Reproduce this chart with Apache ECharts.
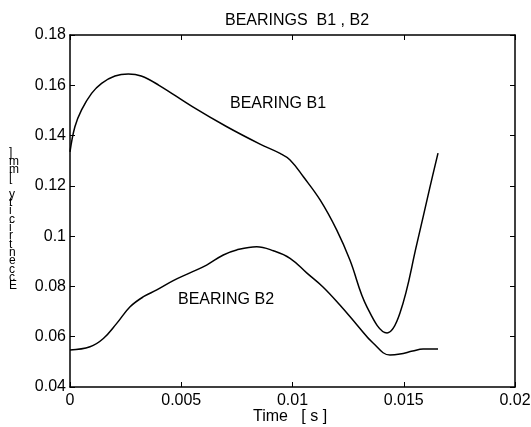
<!DOCTYPE html>
<html>
<head>
<meta charset="utf-8">
<script src="https://cdn.jsdelivr.net/npm/echarts@6/dist/echarts.min.js"></script>
<style>
  html, body { margin: 0; padding: 0; background: #fff; }
  #chart { width: 531px; height: 427px; }
</style>
</head>
<body>
<div id="chart"></div>
<script>
// values: [time (s), eccentricity (mm)]
var bearingB1 = [
    [0, 0.1335], [0.00022, 0.1435], [0.00052, 0.1502], [0.00097, 0.1568],
    [0.00142, 0.1608], [0.00202, 0.1637], [0.00262, 0.1645], [0.0032, 0.1637],
    [0.004, 0.1600], [0.0055, 0.1515], [0.00705, 0.1435], [0.00854, 0.1366],
    [0.00944, 0.1329], [0.00989, 0.1303], [0.01049, 0.1236], [0.01124, 0.1144],
    [0.01199, 0.1024], [0.01258, 0.0905], [0.01335, 0.0718],
    [0.01425, 0.0615], [0.01483, 0.0694], [0.0156, 0.0973], [0.01618, 0.1196],
    [0.01654, 0.1330]
];
var bearingB2 = [
    [0, 0.0547], [0.0009, 0.0560], [0.0015, 0.0593], [0.0021, 0.0653],
    [0.0027, 0.0719], [0.0033, 0.0759], [0.0039, 0.0786], [0.00464, 0.0823],
    [0.00539, 0.0854], [0.00614, 0.0885], [0.00689, 0.0925], [0.00749, 0.0945],
    [0.00839, 0.0958], [0.00914, 0.0942], [0.00989, 0.0912], [0.01065, 0.0853],
    [0.01137, 0.0798], [0.01213, 0.0726], [0.0129, 0.0647], [0.01362, 0.0575],
    [0.01438, 0.0527], [0.01483, 0.0531], [0.0154, 0.0543], [0.01587, 0.0551],
    [0.01654, 0.0551]
];
var xTicks = [0, 0.005, 0.01, 0.015, 0.02];
var yTicks = [0.04, 0.06, 0.08, 0.1, 0.12, 0.14, 0.16, 0.18];
var xLabel = 'Time   [ s ]';
var yLabel = 'Eccentricity [mm]';

var font = 'Liberation Sans, Arial, sans-serif';
var chart = echarts.init(document.getElementById('chart'));

function boxAxis(pos, ticks, showLabel, margin) {
    return {
        type: 'value',
        position: pos,
        min: ticks[0],
        max: ticks[ticks.length - 1],
        interval: ticks[1] - ticks[0],
        axisLine: { show: true, onZero: false, lineStyle: { color: '#000', width: 1.5 } },
        axisTick: { show: true, inside: true, length: 5, lineStyle: { color: '#000', width: 1 } },
        axisLabel: {
            show: showLabel, color: '#000', fontFamily: font, fontSize: 16, margin: margin || 4,
            formatter: function (v) { return String(+v.toFixed(4)); }
        },
        splitLine: { show: false }
    };
}

var lineStyle = { color: '#000', width: 1.5 };

var option = {
    animation: false,
    backgroundColor: '#fff',
    title: {
        text: 'BEARINGS  B1 , B2',
        left: 292, top: 8, textAlign: 'center',
        textStyle: { color: '#000', fontFamily: font, fontSize: 16, fontWeight: 'normal' }
    },
    grid: { left: 70, right: 16, top: 35, bottom: 40, containLabel: false, outerBoundsMode: 'none' },
    xAxis: [
        boxAxis('bottom', xTicks, true, 6),
        boxAxis('top', xTicks, false)
    ],
    yAxis: [
        boxAxis('left', yTicks, true),
        boxAxis('right', yTicks, false)
    ],
    graphic: [
        {
            type: 'text', left: 9, top: 147,
            style: {
                text: yLabel.split('').reverse().join('\n'),
                font: '12px ' + font, fill: '#000', lineHeight: 8.3, align: 'center'
            }
        },
        {
            type: 'text', left: 253, top: 409,
            style: { text: xLabel, font: '16px ' + font, fill: '#000' }
        },
        {
            type: 'text', left: 230, top: 96,
            style: { text: 'BEARING B1', font: '16px ' + font, fill: '#000' }
        },
        {
            type: 'text', left: 178, top: 292,
            style: { text: 'BEARING B2', font: '16px ' + font, fill: '#000' }
        }
    ],
    series: [
        { name: 'B1', type: 'line', data: bearingB1, smooth: 0.4, showSymbol: false, lineStyle: lineStyle },
        { name: 'B2', type: 'line', data: bearingB2, smooth: 0.4, showSymbol: false, lineStyle: lineStyle }
    ]
};

chart.setOption(option);
</script>
</body>
</html>
